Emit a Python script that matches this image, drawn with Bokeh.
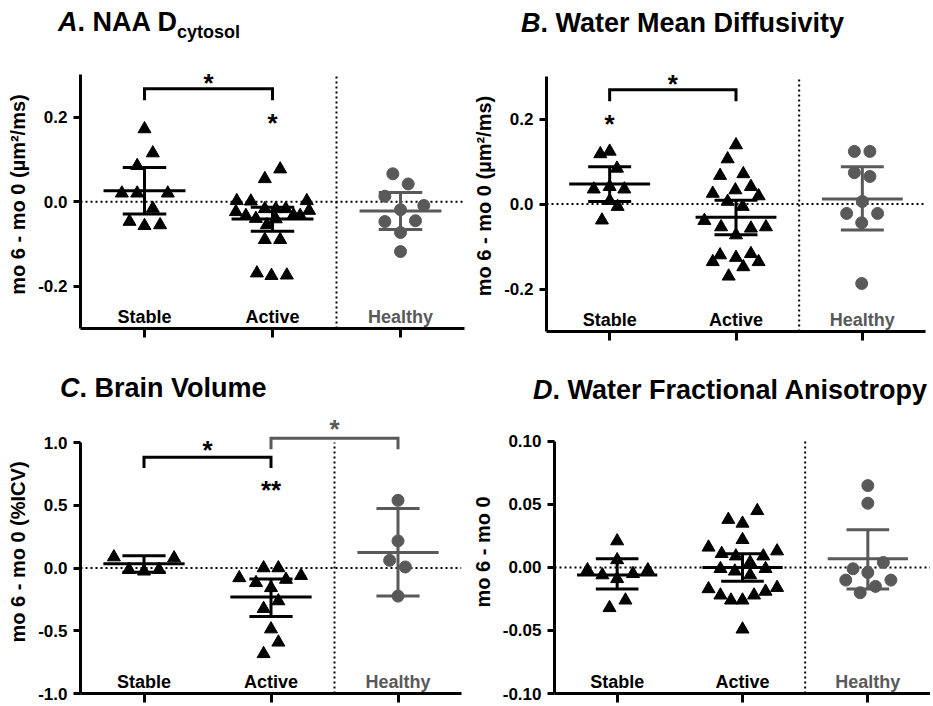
from bokeh.plotting import figure
from bokeh.layouts import column, row
from bokeh.models import Range1d, FixedTicker, Label, NumeralTickFormatter, Div
from bokeh.embed import file_html
from bokeh.resources import INLINE

groups = ["Stable", "Active", "Healthy"]
group_colors = ["black", "black", "#595959"]
group_markers = ["triangle", "triangle", "circle"]

# ---------------- Panel A: NAA D_cytosol ----------------
a_stable_dx = [0.0, 0.065, -0.057, -0.177, -0.057, 0.182, 0.065, -0.117, 0.0, 0.122]
a_stable_y = [0.172, 0.115, 0.085, 0.020, 0.020, 0.020, -0.016, -0.047, -0.057, -0.055]
a_active_dx = [0.06, -0.06, -0.279, -0.169, 0.268, -0.286, -0.208, -0.13, -0.06, 0.026, 0.104,
               0.164, 0.216, 0.286, 0.026, -0.044, -0.06, 0.06, -0.122, -0.008, 0.112]
a_active_y = [0.077, 0.054, 0.002, 0.001, 0.002, -0.024, -0.033, -0.040, -0.017, -0.017, -0.017,
              -0.032, -0.033, -0.021, -0.041, -0.055, -0.090, -0.090, -0.169, -0.175, -0.174]
a_healthy_dx = [-0.06, 0.06, -0.122, 0.182, 0.0, -0.122, 0.117, 0.0, 0.0]
a_healthy_y = [0.066, 0.042, 0.013, -0.009, -0.019, -0.047, -0.045, -0.073, -0.118]
a_mean = [0.026, -0.041, -0.022]
a_upper = [0.081, -0.013, 0.022]
a_lower = [-0.029, -0.070, -0.066]

# ---------------- Panel B: Water Mean Diffusivity ----------------
b_stable_dx = [-0.074, 0.0, 0.058, -0.126, 0.0, 0.116, 0.0, 0.063, -0.061]
b_stable_y = [0.118, 0.124, 0.084, 0.035, 0.041, 0.035, 0.008, -0.006, -0.038]
b_active_dx = [0.0, -0.066, -0.126, 0.058, -0.184, -0.005, 0.118, 0.179, -0.066, 0.053, -0.25,
               -0.118, 0.118, 0.237, 0.0, -0.126, 0.0, 0.118, -0.184, 0.179, 0.058, -0.058]
b_active_y = [0.139, 0.106, 0.067, 0.071, 0.025, 0.033, 0.041, 0.019, 0.006, -0.006, -0.039,
              -0.054, -0.057, -0.054, -0.073, -0.120, -0.126, -0.117, -0.136, -0.136, -0.148, -0.170]
b_healthy_dx = [-0.063, 0.06, -0.063, 0.06, 0.0, -0.124, 0.121, -0.005, -0.005]
b_healthy_y = [0.124, 0.124, 0.074, 0.065, 0.006, -0.022, -0.022, -0.044, -0.187]
b_mean = [0.047, -0.031, 0.012]
b_upper = [0.088, 0.009, 0.088]
b_lower = [0.006, -0.072, -0.061]

# ---------------- Panel C: Brain Volume ----------------
c_stable_dx = [-0.237, 0.237, -0.118, 0.0, 0.118]
c_stable_y = [0.087, 0.079, -0.013, -0.026, -0.013]
c_active_dx = [-0.058, 0.058, -0.25, 0.237, -0.118, 0.118, 0.0, 0.058, -0.058, 0.0, 0.058, -0.058]
c_active_y = [0.0, 0.0, -0.079, -0.061, -0.118, -0.092, -0.158, -0.263, -0.324, -0.487, -0.592, -0.684]
c_healthy_dx = [0.0, 0.0, -0.066, 0.058, 0.0]
c_healthy_y = [0.539, 0.216, 0.061, 0.008, -0.224]
c_mean = [0.034, -0.232, 0.124]
c_upper = [0.097, -0.087, 0.474]
c_lower = [-0.034, -0.387, -0.224]

# ---------------- Panel D: Water Fractional Anisotropy ----------------
d_stable_dx = [0.0, 0.0, -0.237, -0.118, 0.0, 0.126, 0.245, 0.066, -0.061]
d_stable_y = [0.021, 0.006, -0.002, -0.006, -0.009, -0.005, -0.002, -0.026, -0.032]
d_active_dx = [0.118, -0.113, 0.0, 0.0, -0.271, -0.166, -0.053, 0.276, 0.166, 0.061, -0.176,
               0.184, -0.061, 0.061, -0.271, -0.176, -0.092, 0.0, 0.092, 0.184, 0.276, 0.0]
d_active_y = [0.045, 0.038, 0.035, 0.022, 0.016, 0.011, 0.009, 0.013, 0.009, 0.004, -0.001,
              -0.001, -0.003, -0.006, -0.017, -0.022, -0.026, -0.026, -0.022, -0.019, -0.016, -0.049]
d_healthy_dx = [0.0, 0.0, 0.124, -0.118, 0.0, -0.176, 0.184, 0.061, -0.061]
d_healthy_y = [0.065, 0.051, 0.004, -0.001, -0.004, -0.010, -0.010, -0.015, -0.020]
d_mean = [-0.006, 0.0, 0.007]
d_upper = [0.007, 0.011, 0.030]
d_lower = [-0.017, -0.011, -0.017]

# significance brackets: (from group, to group, bar height, end height, star y, text, colour)
a_brackets = [(0, 1, 0.267, 0.240, 0.295, "*", "black")]
a_stars = [(1, 0.200, "*", "black")]
b_brackets = [(0, 1, 0.269, 0.242, 0.297, "*", "black")]
b_stars = [(0, 0.202, "*", "black")]
c_brackets = [(0, 1, 0.882, 0.797, 0.987, "*", "black"),
              (1, 2, 1.034, 0.947, 1.158, "*", "#595959")]
c_stars = [(1, 0.671, "**", "black")]
d_brackets = []
d_stars = []

FONT = "Liberation Sans"


def make_panel(g, ylabel, pts, mean, upper, lower, brackets, stars):
    W, H, L, R, T, B = g["W"], g["H"], g["L"], g["R"], g["T"], g["B"]
    ylo, yhi = g["ylo"], g["yhi"]

    def vy(py):
        return ylo + (B - py) / (B - T) * (yhi - ylo)

    p = figure(width=W, height=H, x_range=Range1d(-0.5, 2.5), y_range=Range1d(ylo, yhi),
               min_border_left=L, min_border_right=W - R, min_border_top=T,
               min_border_bottom=H - B, output_backend="svg", toolbar_location=None,
               title=None, margin=0)
    p.outline_line_color = None
    p.xgrid.visible = False
    p.ygrid.visible = False

    xa = p.xaxis[0]
    xa.ticker = FixedTicker(ticks=[0, 1, 2])
    xa.major_label_text_color = None
    xa.major_label_text_font_size = "2px"
    xa.major_label_standoff = 0
    xa.axis_line_width = 3
    xa.major_tick_line_width = 3
    xa.major_tick_out = 9
    xa.major_tick_in = 0
    xa.minor_tick_line_color = None

    ya = p.yaxis[0]
    ya.ticker = FixedTicker(ticks=g["ticks"])
    ya.bounds = g["bounds"]
    ya.formatter = NumeralTickFormatter(format=g["fmt"])
    ya.axis_line_width = 3
    ya.major_tick_line_width = 3
    ya.major_tick_out = 7
    ya.major_tick_in = 0
    ya.minor_tick_line_color = None
    ya.major_label_text_font = FONT
    ya.major_label_text_font_style = "bold"
    ya.major_label_text_font_size = "17px"
    ya.major_label_text_color = "black"
    ya.major_label_standoff = 6
    ya.axis_label = ylabel
    ya.axis_label_text_font = FONT
    ya.axis_label_text_font_style = "bold"
    ya.axis_label_text_font_size = "20px"
    ya.axis_label_text_color = "black"
    ya.axis_label_standoff = 6

    # reference lines
    p.segment(x0=[-0.5], y0=[0], x1=[2.5], y1=[0], line_color="black",
              line_width=2, line_dash="2 3")
    p.segment(x0=[1.5], y0=[ylo], x1=[1.5], y1=[g["bounds"][1]], line_color="black",
              line_width=2, line_dash="2 3")

    # points
    for i, (dx, ys) in enumerate(pts):
        xs = [i + d for d in dx]
        p.scatter(xs, ys, marker=group_markers[i], size=12 if i == 2 else 13,
                  color=group_colors[i])

    # mean +/- error bars
    for i in range(3):
        c = group_colors[i]
        p.segment(x0=[i - 0.32], y0=[mean[i]], x1=[i + 0.32], y1=[mean[i]],
                  line_color=c, line_width=3)
        p.segment(x0=[i - 0.17, i - 0.17, i], y0=[upper[i], lower[i], lower[i]],
                  x1=[i + 0.17, i + 0.17, i], y1=[upper[i], lower[i], upper[i]],
                  line_color=c, line_width=3)

    # brackets and stars
    for (g0, g1, top, end, sy, txt, c) in brackets:
        p.line([g0, g0, g1, g1], [end, top, top, end], line_color=c, line_width=3,
               line_join="miter")
        p.add_layout(Label(x=(g0 + g1) / 2, y=sy, text=txt, text_align="center",
                           text_baseline="middle", y_offset=-6, text_font=FONT,
                           text_font_style="bold", text_font_size="26px", text_color=c))
    for (gi, sy, txt, c) in stars:
        p.add_layout(Label(x=gi, y=sy, text=txt, text_align="center",
                           text_baseline="middle", y_offset=-6, text_font=FONT,
                           text_font_style="bold", text_font_size="26px", text_color=c))

    # category labels (inside the plot, just above the x axis)
    for i, name in enumerate(groups):
        p.add_layout(Label(x=i, y=vy(B - 12), text=name, text_align="center",
                           text_baseline="middle", text_font=FONT, text_font_style="bold",
                           text_font_size="18px", text_color=group_colors[i]))
    return p


def title_div(letter, rest, sub, width, height, pad_left, pad_top):
    sub_html = ""
    if sub:
        sub_html = ('<span style="font-size:18px;position:relative;top:7px;">'
                    + sub + '</span>')
    html = ('<div style="font-family:\'Liberation Sans\',Arial,sans-serif;font-weight:bold;'
            'font-size:27px;line-height:27px;white-space:nowrap;color:black;'
            f'padding-left:{pad_left}px;padding-top:{pad_top}px;">'
            f'<i>{letter}</i>. {rest}{sub_html}</div>')
    return Div(text=html, width=width, height=height, margin=0)


geo_a = dict(W=466, H=296, L=80, R=464, T=10, B=278, ylo=-0.3, yhi=0.334,
             bounds=(-0.3, 0.3), ticks=[-0.2, 0.0, 0.2], fmt="0.0")
geo_b = dict(W=464, H=296, L=80, R=459, T=10, B=281, ylo=-0.3, yhi=0.338,
             bounds=(-0.3, 0.3), ticks=[-0.2, 0.0, 0.2], fmt="0.0")
geo_c = dict(W=466, H=298, L=80, R=461, T=4, B=287, ylo=-1.0, yhi=1.255,
             bounds=(-1.0, 1.0), ticks=[-1.0, -0.5, 0.0, 0.5, 1.0], fmt="0.0")
geo_d = dict(W=464, H=298, L=88, R=464, T=4, B=287, ylo=-0.1, yhi=0.1246,
             bounds=(-0.1, 0.1), ticks=[-0.1, -0.05, 0.0, 0.05, 0.1], fmt="0.00")

pa = make_panel(geo_a, "mo 6 - mo 0 (µm²/ms)",
                [(a_stable_dx, a_stable_y), (a_active_dx, a_active_y), (a_healthy_dx, a_healthy_y)],
                a_mean, a_upper, a_lower, a_brackets, a_stars)
pb = make_panel(geo_b, "mo 6 - mo 0 (µm²/ms)",
                [(b_stable_dx, b_stable_y), (b_active_dx, b_active_y), (b_healthy_dx, b_healthy_y)],
                b_mean, b_upper, b_lower, b_brackets, b_stars)
pc = make_panel(geo_c, "mo 6 - mo 0 (%ICV)",
                [(c_stable_dx, c_stable_y), (c_active_dx, c_active_y), (c_healthy_dx, c_healthy_y)],
                c_mean, c_upper, c_lower, c_brackets, c_stars)
pd_ = make_panel(geo_d, "mo 6 - mo 0",
                 [(d_stable_dx, d_stable_y), (d_active_dx, d_active_y), (d_healthy_dx, d_healthy_y)],
                 d_mean, d_upper, d_lower, d_brackets, d_stars)

ta = title_div("A", "NAA D", "cytosol", 466, 50, 58, 9)
tb = title_div("B", "Water Mean Diffusivity", None, 464, 50, 55, 10)
tc = title_div("C", "Brain Volume", None, 466, 60, 60, 29)
td = title_div("D", "Water Fractional Anisotropy", None, 464, 60, 67, 31)

layout = column(
    row(column(ta, pa, spacing=0, margin=0), column(tb, pb, spacing=0, margin=0),
        spacing=0, margin=0),
    row(column(tc, pc, spacing=0, margin=0), column(td, pd_, spacing=0, margin=0),
        spacing=0, margin=0),
    spacing=0, margin=0)
open("out.html", "w").write(file_html(layout, INLINE))
